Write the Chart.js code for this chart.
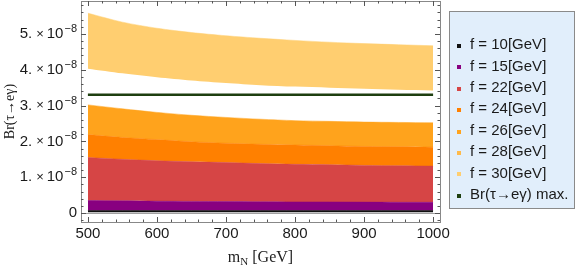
<!DOCTYPE html>
<html>
<head>
<meta charset="utf-8">
<script src="https://cdn.jsdelivr.net/npm/chart.js@4/dist/chart.umd.min.js"></script>
<style>
  html, body { margin: 0; padding: 0; background: #fff; }
  #box { width: 581px; height: 268px; }
</style>
</head>
<body>
<div id="box"><canvas id="myChart"></canvas></div>
<script>
  // masses (GeV) and branching ratios in units of 1e-8
  const massas = [500, 550, 600, 650, 700, 750, 800, 850, 900, 950, 1000];
  const base10 = [0.02, 0.02, 0.02, 0.02, 0.02, 0.02, 0.02, 0.02, 0.02, 0.02, 0.02];
  const topo10 = [0.07, 0.07, 0.07, 0.07, 0.07, 0.07, 0.07, 0.07, 0.07, 0.07, 0.07];
  const topo15 = [0.35, 0.34, 0.33, 0.325, 0.32, 0.315, 0.31, 0.31, 0.305, 0.30, 0.30];
  const topo22 = [1.55, 1.50, 1.46, 1.43, 1.41, 1.38, 1.36, 1.35, 1.33, 1.32, 1.31];
  const topo24 = [2.19, 2.11, 2.05, 1.99, 1.95, 1.92, 1.90, 1.88, 1.86, 1.85, 1.84];
  const topo26 = [3.02, 2.91, 2.81, 2.73, 2.67, 2.62, 2.58, 2.56, 2.54, 2.53, 2.52];
  const topo28 = [];
  const base30 = [4.03, 3.90, 3.79, 3.70, 3.63, 3.57, 3.53, 3.50, 3.47, 3.44, 3.42];
  const topo30 = [5.58, 5.33, 5.16, 5.04, 4.95, 4.88, 4.82, 4.77, 4.73, 4.70, 4.67];
  const brMax = 3.3;

  const yTicks = [0, 1, 2, 3, 4, 5];
  const xTicks = [500, 600, 700, 800, 900, 1000];

  const legendas = ['f = 10[GeV]', 'f = 15[GeV]', 'f = 22[GeV]', 'f = 24[GeV]',
                    'f = 26[GeV]', 'f = 28[GeV]', 'f = 30[GeV]', 'Br(\u03c4\u2192e\u03b3) max.'];
  const cores = ['#111111', '#880080', '#D64545', '#FF8000', '#FFA31C', '#FFBA4A', '#FFCE70', '#1E3F10'];

  function pontos(ys) {
    return ys.map((y, i) => ({ x: massas[i], y: y }));
  }

  function faixa(ys, cor) {
    return {
      data: pontos(ys), borderColor: cor, backgroundColor: cor,
      borderWidth: 0.5, pointRadius: 0, fill: '-1', tension: 0.3
    };
  }

  const invisivel = ys => ({ data: pontos(ys), borderWidth: 0, pointRadius: 0, fill: false, tension: 0.3 });

  const datasets = [
    invisivel(base10),
    faixa(topo10, cores[0]),
    faixa(topo15, cores[1]),
    faixa(topo22, cores[2]),
    faixa(topo24, cores[3]),
    faixa(topo26, cores[4]),
    { data: pontos(topo28), pointRadius: 0, fill: false },
    invisivel(base30),
    faixa(topo30, cores[6]),
    {
      data: [{ x: massas[0], y: brMax }, { x: massas[massas.length - 1], y: brMax }],
      borderColor: cores[7], borderWidth: 2.5, pointRadius: 0, fill: false
    }
  ];

  const fonteSans = '"Liberation Sans", Arial, sans-serif';
  const fonteSerif = '"Liberation Serif", "Times New Roman", serif';

  // Frame with inward ticks, zero axis, y labels, titles and legend
  const moldura = {
    id: 'moldura',
    beforeDatasetsDraw(chart) {
      const { ctx, chartArea: a, scales: { y } } = chart;
      const y0 = y.getPixelForValue(0);
      ctx.save();
      ctx.strokeStyle = '#a0a0a0';
      ctx.lineWidth = 1;
      ctx.beginPath();
      ctx.moveTo(a.left, Math.round(y0) + 0.5);
      ctx.lineTo(a.right, Math.round(y0) + 0.5);
      ctx.stroke();
      ctx.restore();
    },
    afterDraw(chart) {
      const { ctx, chartArea: a, scales: { x, y } } = chart;
      ctx.save();
      ctx.strokeStyle = '#888';
      ctx.lineWidth = 1;
      ctx.strokeRect(Math.round(a.left) + 0.5, Math.round(a.top) + 0.5,
                     Math.round(a.right - a.left), Math.round(a.bottom - a.top));
      ctx.strokeStyle = '#555';
      ctx.beginPath();
      for (let v = 500; v <= 1000; v += 20) {
        const px = Math.round(x.getPixelForValue(v)) + 0.5;
        const len = (v % 100 === 0) ? 5 : 2.5;
        ctx.moveTo(px, a.bottom); ctx.lineTo(px, a.bottom - len);
        ctx.moveTo(px, a.top); ctx.lineTo(px, a.top + len);
      }
      for (let k = -1; k <= 29; k++) {
        const v = k * 0.2;
        if (v < y.min || v > y.max) continue;
        const py = Math.round(y.getPixelForValue(v)) + 0.5;
        const len = (k % 5 === 0) ? 5 : 2.5;
        ctx.moveTo(a.left, py); ctx.lineTo(a.left + len, py);
        ctx.moveTo(a.right, py); ctx.lineTo(a.right - len, py);
      }
      ctx.stroke();

      // y tick labels, "n. × 10^-8"
      ctx.fillStyle = '#1a1a1a';
      ctx.textBaseline = 'middle';
      ctx.textAlign = 'right';
      const fMain = '15px ' + fonteSans;
      const fSup = '11px ' + fonteSans;
      yTicks.forEach(v => {
        const py = y.getPixelForValue(v);
        let xr = a.left - 4;
        if (v === 0) {
          ctx.font = fMain; ctx.fillText('0', xr, py);
          return;
        }
        ctx.font = fSup; ctx.fillText('\u22128', xr, py - 5);
        xr -= ctx.measureText('\u22128').width + 1;
        ctx.font = fMain; ctx.fillText('10', xr, py);
        xr -= ctx.measureText('10').width + 3;
        ctx.font = '13px ' + fonteSans; ctx.fillText('\u00d7', xr, py);
        xr -= ctx.measureText('\u00d7').width + 4;
        ctx.font = fMain; ctx.fillText(v + '.', xr, py);
      });

      // axis titles
      ctx.fillStyle = '#222';
      const cx = (a.left + a.right) / 2;
      const fm = '16px ' + fonteSerif;
      const fs = '11px ' + fonteSerif;
      ctx.font = fm; const w1 = ctx.measureText('m').width;
      ctx.font = fs; const w2 = ctx.measureText('N').width;
      ctx.font = fm; const w3 = ctx.measureText(' [GeV]').width;
      const sx = cx - (w1 + w2 + w3) / 2;
      const ty = 258;
      ctx.textAlign = 'left';
      ctx.font = fm; ctx.fillText('m', sx, ty);
      ctx.font = fs; ctx.fillText('N', sx + w1, ty + 4);
      ctx.font = fm; ctx.fillText(' [GeV]', sx + w1 + w2, ty);

      ctx.save();
      ctx.translate(10, (a.top + a.bottom) / 2);
      ctx.rotate(-Math.PI / 2);
      ctx.textAlign = 'center';
      ctx.font = '14px ' + fonteSerif;
      ctx.fillText('Br(\u03c4\u2192e\u03b3)', 0, 0);
      ctx.restore();

      // legend
      ctx.fillStyle = '#E1EEFB';
      ctx.fillRect(449, 11, 125, 197);
      ctx.strokeStyle = '#8a8a8a';
      ctx.strokeRect(449.5, 11.5, 125, 197);
      ctx.font = '15px ' + fonteSans;
      ctx.textAlign = 'left';
      legendas.forEach((txt, i) => {
        const ly = 45 + i * 21.4;
        ctx.fillStyle = cores[i];
        ctx.fillRect(457, Math.round(ly) - 1, 4, 4);
        ctx.fillStyle = '#1a1a1a';
        ctx.fillText(txt, 470, ly);
      });
      ctx.restore();
    }
  };

  new Chart(document.getElementById('myChart'), {
    type: 'line',
    data: { datasets: datasets },
    options: {
      responsive: true,
      maintainAspectRatio: false,
      animation: false,
      layout: { padding: { top: 1, right: 141, left: 0, bottom: 0 } },
      plugins: { legend: { display: false }, tooltip: { enabled: false } },
      scales: {
        x: {
          type: 'linear', min: 490, max: 1010,
          grid: { display: false, drawTicks: false }, border: { display: false },
          afterFit: s => { s.height = 46; },
          afterBuildTicks: s => { s.ticks = xTicks.map(v => ({ value: v })); },
          ticks: { color: '#1a1a1a', padding: 3, maxRotation: 0,
                   font: { family: fonteSans, size: 15 },
                   callback: v => String(v) }
        },
        y: {
          type: 'linear', min: -0.25, max: 5.92,
          grid: { display: false, drawTicks: false }, border: { display: false },
          afterFit: s => { s.width = 81; },
          ticks: { display: false }
        }
      }
    },
    plugins: [moldura]
  });
</script>
</body>
</html>
